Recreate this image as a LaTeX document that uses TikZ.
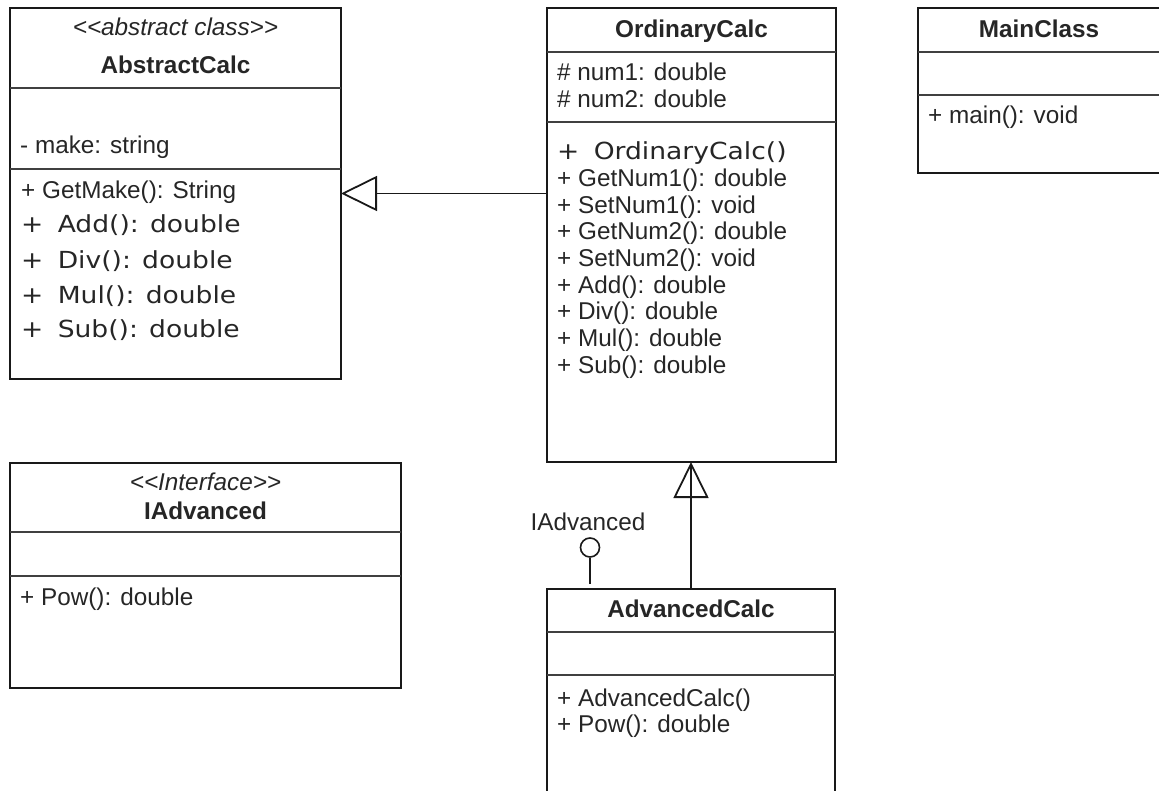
\documentclass[tikz,border=0pt]{standalone}
\usepackage{fontspec}
\setmainfont{Liberation Sans}
\newfontfamily\widefont[FakeStretch=1.13]{DejaVu Sans}
\usetikzlibrary{arrows.meta,calc}
\begin{document}
\begin{tikzpicture}[x=1pt,y=-1pt,
  box/.style={draw=black!90, line width=1.8pt, anchor=north west, inner sep=0pt, outer sep=0pt},
  sep/.style={draw=black!75, line width=1.4pt},
  txt/.style={inner sep=0pt, anchor=base west, font=\fontsize{24.3}{26}\selectfont, text=black!85},
  wtxt/.style={inner sep=0pt, anchor=base west, font=\fontsize{23.5}{26}\widefont, text=black!85},
  ttl/.style={inner sep=0pt, anchor=base, font=\fontsize{24.3}{26}\selectfont\bfseries, text=black!85},
  stereo/.style={inner sep=0pt, anchor=base, font=\fontsize{24.3}{26}\selectfont\itshape, text=black!85},
  gen/.style={draw=black!90, line width=1.8pt, -{Triangle[open,length=36pt,width=35pt]}},
  conn/.style={draw=black!90, line width=1.8pt},
]
\useasboundingbox (0,0) rectangle (1159,791);
\clip (0,0) rectangle (1159,791);

% ---------- AbstractCalc ----------
\node[box, minimum width=331pt, minimum height=371pt] (abs) at (10,8) {};
\draw[sep] ($(abs.north west)+(0,80)$) -- ($(abs.north east)+(0,80)$);
\draw[sep] ($(abs.north west)+(0,161)$) -- ($(abs.north east)+(0,161)$);
\node[stereo] (absst) at (175.5,36) {<{}<abstract class>{}>};
\node[ttl] (absttl) at (175.5,74) {AbstractCalc};
\node[txt] (absa1) at (20,154) {- make: string};
\node[txt] (absm1) at (21,199) {+ GetMake(): String};
\node[wtxt] (absm2) at (21,233) {+\hspace{0.25em} Add(): double};
\node[wtxt] (absm3) at (21,268.5) {+\hspace{0.25em} Div(): double};
\node[wtxt] (absm4) at (21,303.5) {+\hspace{0.25em} Mul(): double};
\node[wtxt] (absm5) at (21,338) {+\hspace{0.25em} Sub(): double};

% ---------- OrdinaryCalc ----------
\node[box, minimum width=289pt, minimum height=454pt] (ord) at (547,8) {};
\draw[sep] ($(ord.north west)+(0,44)$) -- ($(ord.north east)+(0,44)$);
\draw[sep] ($(ord.north west)+(0,114)$) -- ($(ord.north east)+(0,114)$);
\node[ttl] (ordttl) at (691.5,37.7) {OrdinaryCalc};
\node[txt] (orda1) at (557,81) {\# num1: double};
\node[txt] (orda2) at (557,107.7) {\# num2: double};
\node[wtxt] (ordm0) at (557,160) {+\hspace{0.25em} OrdinaryCalc()};
\node[txt] (ordm1) at (557,186.7) {+ GetNum1(): double};
\node[txt] (ordm2) at (557,213.3) {+ SetNum1(): void};
\node[txt] (ordm3) at (557,240) {+ GetNum2(): double};
\node[txt] (ordm4) at (557,266.7) {+ SetNum2(): void};
\node[txt] (ordm5) at (557,293.3) {+ Add(): double};
\node[txt] (ordm6) at (557,320) {+ Div(): double};
\node[txt] (ordm7) at (557,346.7) {+ Mul(): double};
\node[txt] (ordm8) at (557,373.3) {+ Sub(): double};

% ---------- MainClass ----------
\node[box, minimum width=244pt, minimum height=165pt] (main) at (918,8) {};
\draw[sep] ($(main.north west)+(0,44)$) -- ($(main.north east)+(0,44)$);
\draw[sep] ($(main.north west)+(0,87)$) -- ($(main.north east)+(0,87)$);
\node[ttl] (mainttl) at (1039,37.7) {MainClass};
\node[txt] (mainm1) at (928,124) {+ main(): void};

% ---------- IAdvanced ----------
\node[box, minimum width=391pt, minimum height=225pt] (iadv) at (10,463) {};
\draw[sep] ($(iadv.north west)+(0,69)$) -- ($(iadv.north east)+(0,69)$);
\draw[sep] ($(iadv.north west)+(0,113)$) -- ($(iadv.north east)+(0,113)$);
\node[stereo] (iadvst) at (205.5,490) {<{}<Interface>{}>};
\node[ttl] (iadvttl) at (205.5,519) {IAdvanced};
\node[txt] (iadvm1) at (20,605.7) {+ Pow(): double};

% ---------- AdvancedCalc ----------
\node[box, minimum width=288pt, minimum height=220pt] (adv) at (547,589) {};
\draw[sep] ($(adv.north west)+(0,43)$) -- ($(adv.north east)+(0,43)$);
\draw[sep] ($(adv.north west)+(0,86)$) -- ($(adv.north east)+(0,86)$);
\node[ttl] (advttl) at (691,617.7) {AdvancedCalc};
\node[txt] (advm1) at (557,706.7) {+ AdvancedCalc()};
\node[txt] (advm2) at (557,732.3) {+ Pow(): double};

% ---------- relations ----------
% OrdinaryCalc generalises AbstractCalc
\draw[gen] (ord.west |- abs.east) -- (abs.east);
% AdvancedCalc generalises OrdinaryCalc
\draw[gen] (adv.north) -- (adv.north |- ord.south);
\draw[conn] ($(adv.north |- ord.south)+(0,37)$) -- ($(adv.north |- ord.south)+(0,2)$);
% provided interface (lollipop)
\node[draw=black!90, line width=1.6pt, circle, minimum size=19pt, inner sep=0pt] (lol) at (590,547.5) {};
\coordinate (stem) at (590,584);
\draw[conn] (lol.south) -- (stem);
\node[inner sep=0pt, anchor=base, font=\fontsize{24.3}{26}\selectfont, text=black!85] (lollbl) at (588,530) {IAdvanced};
\end{tikzpicture}
\end{document}
